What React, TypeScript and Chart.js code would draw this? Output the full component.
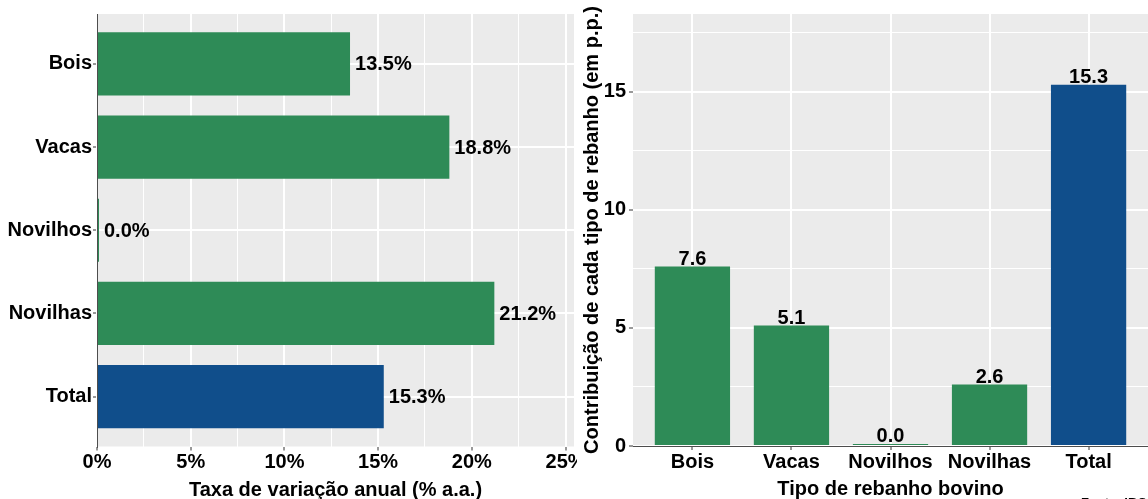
import React, { useEffect, useRef } from "react";
import { Chart, registerables } from "chart.js";

Chart.register(...registerables);

// ---- Data ----
const leftCategories = ["Bois", "Vacas", "Novilhos", "Novilhas", "Total"];
const leftValues = [13.5, 18.8, 0.0, 21.2, 15.3]; // Taxa de variação anual (% a.a.)
const rightCategories = ["Bois", "Vacas", "Novilhos", "Novilhas", "Total"];
const rightValues = [7.6, 5.1, 0.0, 2.6, 15.3]; // Contribuição (p.p.)
const leftTickLabels = ["0%", "5%", "10%", "15%", "20%", "25%"];
const rightTickLabels = ["0", "5", "10", "15"];

const GREEN = "#2E8B57";
const BLUE = "#104E8B";
const barColors = [GREEN, GREEN, GREEN, GREEN, BLUE];
const PANEL_BG = "#EBEBEB";
const FONT = "'Liberation Sans', Arial, Helvetica, sans-serif";

const isMajor = (v: number) => Math.abs(v / 5 - Math.round(v / 5)) < 1e-6;

const bgPlugin = (whiteAll: boolean) => ({
  id: "panelBg",
  beforeDraw(chart: any) {
    const { ctx, chartArea, width, height } = chart;
    ctx.save();
    if (whiteAll) {
      ctx.fillStyle = "#ffffff";
      ctx.fillRect(0, 0, width, height);
    }
    ctx.fillStyle = PANEL_BG;
    ctx.fillRect(chartArea.left, chartArea.top, chartArea.right - chartArea.left, chartArea.bottom - chartArea.top);
    ctx.restore();
  },
});

const labelPlugin = (horizontal: boolean, fmt: (v: number) => string) => ({
  id: "barLabels",
  afterDatasetsDraw(chart: any) {
    const { ctx } = chart;
    const meta = chart.getDatasetMeta(0);
    const ds = chart.data.datasets[0].data as any[];
    ctx.save();
    ctx.fillStyle = "#000";
    ctx.font = `bold 20px ${FONT}`;
    meta.data.forEach((bar: any, i: number) => {
      const v = horizontal ? ds[i].x : ds[i].y;
      const txt = fmt(v);
      if (horizontal) {
        ctx.textAlign = "left";
        ctx.textBaseline = "middle";
        ctx.fillText(txt, Math.max(bar.x, bar.base) + 5, bar.y + 1);
      } else {
        ctx.textAlign = "center";
        ctx.textBaseline = "alphabetic";
        ctx.fillText(txt, bar.x, Math.min(bar.y, bar.base) - 2);
      }
    });
    ctx.restore();
  },
});

const captionPlugin = {
  id: "caption",
  afterDraw(chart: any) {
    const { ctx } = chart;
    ctx.save();
    ctx.fillStyle = "#000";
    ctx.font = `bold 13px ${FONT}`;
    ctx.textAlign = "left";
    ctx.textBaseline = "alphabetic";
    ctx.fillText("Fonte: IBGE", 1081 - 577, 506.5);
    ctx.restore();
  },
};

export default function App() {
  const leftRef = useRef<HTMLCanvasElement>(null);
  const rightRef = useRef<HTMLCanvasElement>(null);

  useEffect(() => {
    const tickFont = { family: FONT, size: 20, weight: "bold" as const };

    const left = new Chart(leftRef.current!, {
      type: "bar",
      data: {
        datasets: [
          {
            data: leftValues.map((v, i) => ({ x: v, y: i + 1 })),
            backgroundColor: barColors,
            barPercentage: 0.76,
            categoryPercentage: 1,
            minBarLength: 2,
          },
        ],
      },
      options: {
        indexAxis: "y",
        responsive: false,
        animation: false,
        events: [],
        layout: { padding: { top: 14, right: 6, left: 0, bottom: 0 } },
        plugins: { legend: { display: false }, tooltip: { enabled: false } },
        scales: {
          y: {
            type: "linear",
            reverse: true,
            offset: false,
            min: 0.4,
            max: 5.6,
            afterFit: (s: any) => {
              s.width = 97;
              s.paddingTop = 0;
              s.paddingBottom = 0;
            },
            ticks: {
              stepSize: 1,
              includeBounds: false,
              autoSkip: false,
              color: "#000",
              font: tickFont,
              padding: 1,
              callback: (v: any) => leftCategories[Number(v) - 1] ?? "",
            },
            grid: {
              offset: false,
              color: "#ffffff",
              lineWidth: 2,
              tickColor: "#333333",
              tickLength: 4,
              tickWidth: 1,
            },
            border: { display: true, color: "#4d4d4d", width: 1 },
          },
          x: {
            type: "linear",
            min: 0,
            max: 25.45,
            afterFit: (s: any) => {
              s.height = 52.5;
              s.paddingLeft = 0;
              s.paddingRight = 0;
            },
            ticks: {
              stepSize: 2.5,
              includeBounds: false,
              autoSkip: false,
              maxRotation: 0,
              color: "#000",
              font: tickFont,
              padding: 0,
              callback: (v: any) => (isMajor(Number(v)) ? leftTickLabels[Math.round(Number(v) / 5)] : ""),
            },
            grid: {
              color: "#ffffff",
              lineWidth: (c: any) => (c.tick && isMajor(c.tick.value) ? 2 : 1),
              tickColor: (c: any) => (c.tick && isMajor(c.tick.value) ? "#333333" : "rgba(0,0,0,0)"),
              tickLength: 4,
              tickWidth: 1,
            },
            border: { display: false },
            title: {
              display: true,
              text: "Taxa de variação anual (% a.a.)",
              color: "#000",
              font: { family: FONT, size: 20, weight: "bold" },
              padding: { top: 0, bottom: -3 },
            },
          },
        },
      } as any,
      plugins: [bgPlugin(false), labelPlugin(true, (v) => v.toFixed(1) + "%")],
    });

    const right = new Chart(rightRef.current!, {
      type: "bar",
      data: {
        datasets: [
          {
            data: rightValues.map((v, i) => ({ x: i + 1, y: v })),
            backgroundColor: barColors,
            barPercentage: 0.76,
            categoryPercentage: 1,
            minBarLength: 2,
          },
        ],
      },
      options: {
        responsive: false,
        animation: false,
        events: [],
        layout: { padding: { top: 14, right: 0, left: 0, bottom: 0 } },
        plugins: { legend: { display: false }, tooltip: { enabled: false } },
        scales: {
          x: {
            type: "linear",
            offset: false,
            min: 0.4,
            max: 5.6,
            afterFit: (s: any) => {
              s.height = 53;
              s.paddingLeft = 0;
              s.paddingRight = 0;
            },
            ticks: {
              stepSize: 1,
              includeBounds: false,
              autoSkip: false,
              maxRotation: 0,
              color: "#000",
              font: tickFont,
              padding: 0,
              callback: (v: any) => rightCategories[Number(v) - 1] ?? "",
            },
            grid: {
              offset: false,
              color: "#ffffff",
              lineWidth: 2,
              tickColor: "#333333",
              tickLength: 4,
              tickWidth: 1,
            },
            border: { display: true, color: "#4d4d4d", width: 1 },
            title: {
              display: true,
              text: "Tipo de rebanho bovino",
              color: "#000",
              font: { family: FONT, size: 20, weight: "bold" },
              padding: { top: 0, bottom: -2 },
            },
          },
          y: {
            type: "linear",
            min: 0,
            max: 18.3,
            afterFit: (s: any) => {
              s.width = 56;
              s.paddingTop = 0;
              s.paddingBottom = 0;
            },
            ticks: {
              stepSize: 2.5,
              includeBounds: false,
              autoSkip: false,
              color: "#000",
              font: tickFont,
              padding: 3,
              callback: (v: any) => (isMajor(Number(v)) ? rightTickLabels[Math.round(Number(v) / 5)] : ""),
            },
            grid: {
              color: "#ffffff",
              lineWidth: (c: any) => (c.tick && isMajor(c.tick.value) ? 2 : 1),
              tickColor: (c: any) => (c.tick && isMajor(c.tick.value) ? "#333333" : "rgba(0,0,0,0)"),
              tickLength: 4,
              tickWidth: 1,
            },
            border: { display: false },
            title: {
              display: true,
              text: "Contribuição de cada tipo de rebanho (em p.p.)",
              color: "#000",
              font: { family: FONT, size: 20, weight: "bold" },
              padding: { top: 3, bottom: 0 },
            },
          },
        },
      } as any,
      plugins: [bgPlugin(true), labelPlugin(false, (v) => v.toFixed(1)), captionPlugin],
    });

    return () => {
      left.destroy();
      right.destroy();
    };
  }, []);

  return (
    <div style={{ position: "absolute", left: 0, top: 0, width: 1148, height: 499, background: "#fff", overflow: "hidden" }}>
      <canvas ref={leftRef} width={580} height={499} style={{ position: "absolute", left: 0, top: 0, width: 580, height: 499 }} />
      <canvas ref={rightRef} width={571} height={499} style={{ position: "absolute", left: 577, top: 0, width: 571, height: 499 }} />
    </div>
  );
}
